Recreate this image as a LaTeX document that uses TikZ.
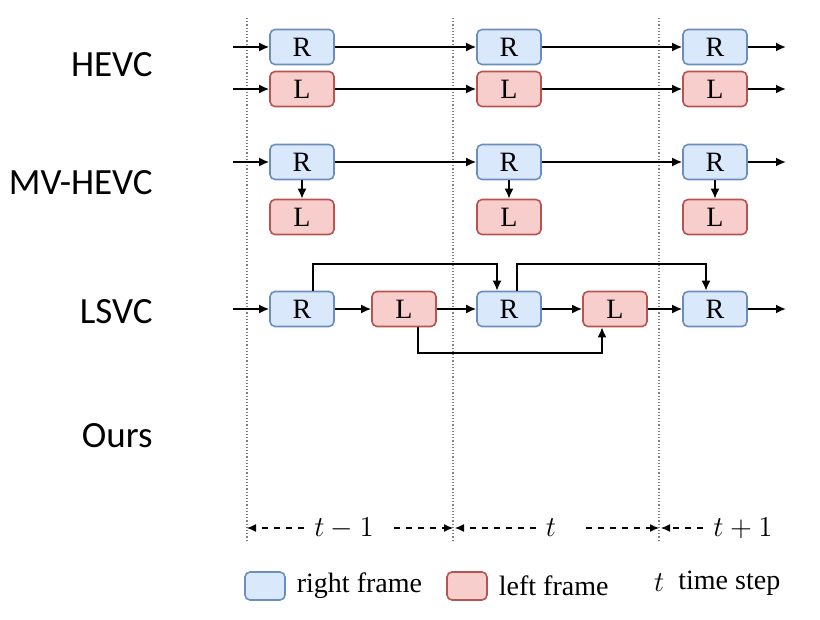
\documentclass[tikz,border=0pt]{standalone}
\usepackage{fontspec}
\setmainfont{Liberation Serif}
\newfontfamily\methodfont{Carlito}
\usetikzlibrary{arrows.meta, positioning}

\definecolor{rframefill}{HTML}{DAE8FC}
\definecolor{rframeline}{HTML}{6C8EBF}
\definecolor{lframefill}{HTML}{F8CECC}
\definecolor{lframeline}{HTML}{B85450}

\tikzset{
  framebox/.style={draw, rounded corners=2.5pt, line width=0.8pt, minimum width=32pt, minimum height=17.5pt, inner sep=0pt, font=\fontsize{14}{14}\selectfont},
  rframe/.style={framebox, draw=rframeline, fill=rframefill},
  lframe/.style={framebox, draw=lframeline, fill=lframefill},
  flow/.style={-{Latex[length=5pt,width=4.5pt]}, line width=0.9pt},
  span/.style={-{Latex[length=4.5pt,width=4pt]}, dashed, line width=0.6pt},
  method/.style={anchor=east, inner sep=0pt, font=\methodfont\fontsize{18.5}{18.5}\selectfont},
  legend/.style={anchor=west, font=\fontsize{14}{14}\selectfont},
  steplabel/.style={font=\fontsize{15}{15}\selectfont, inner sep=5pt},
}

\begin{document}
\begin{tikzpicture}[x=0.5pt, y=-0.5pt]
    \useasboundingbox (0,0) rectangle (820,620);

    % time step borders
    \foreach \xpos in {247, 453, 659} {
        \draw[densely dotted, gray, line width=0.6pt] (\xpos,18) -- (\xpos,542);
    }

    % method names
    \node[method] (hevc) at (153,65) {HEVC};
    \node[method] (mvhevc) at (153,183) {MV-HEVC};
    \node[method] (lsvc) at (153,312) {LSVC};
    \node[method] (ours) at (153,436) {Ours};

    % HEVC
    \node[rframe] (hR1) at (302,47) {R};
    \node[rframe] (hR2) at (509,47) {R};
    \node[rframe] (hR3) at (715,47) {R};
    \node[lframe] (hL1) at (302,89) {L};
    \node[lframe] (hL2) at (509,89) {L};
    \node[lframe] (hL3) at (715,89) {L};
    \coordinate (hRin) at (233,47);
    \coordinate (hRout) at (786,47);
    \coordinate (hLin) at (233,89);
    \coordinate (hLout) at (786,89);
    \draw[flow] (hRin) -- (hR1);
    \draw[flow] (hR1) -- (hR2);
    \draw[flow] (hR2) -- (hR3);
    \draw[flow] (hR3) -- (hRout);
    \draw[flow] (hLin) -- (hL1);
    \draw[flow] (hL1) -- (hL2);
    \draw[flow] (hL2) -- (hL3);
    \draw[flow] (hL3) -- (hLout);

    % MV-HEVC
    \node[rframe] (mR1) at (302,162) {R};
    \node[rframe] (mR2) at (509,162) {R};
    \node[rframe] (mR3) at (715,162) {R};
    \node[lframe] (mL1) at (302,217) {L};
    \node[lframe] (mL2) at (509,217) {L};
    \node[lframe] (mL3) at (715,217) {L};
    \coordinate (mRin) at (233,162);
    \coordinate (mRout) at (786,162);
    \draw[flow] (mRin) -- (mR1);
    \draw[flow] (mR1) -- (mR2);
    \draw[flow] (mR2) -- (mR3);
    \draw[flow] (mR3) -- (mRout);
    \foreach \i in {1,2,3} {
        \draw[flow] (mR\i) -- (mL\i);
    }

    % LSVC
    \node[rframe] (sR1) at (302,309) {R};
    \node[lframe] (sL1) at (404,309) {L};
    \node[rframe] (sR2) at (509,309) {R};
    \node[lframe] (sL2) at (615,309) {L};
    \node[rframe] (sR3) at (715,309) {R};
    \coordinate (sin) at (233,309);
    \coordinate (sout) at (786,309);
    \draw[flow] (sin) -- (sR1);
    \draw[flow] (sR1) -- (sL1);
    \draw[flow] (sL1) -- (sR2);
    \draw[flow] (sR2) -- (sL2);
    \draw[flow] (sL2) -- (sR3);
    \draw[flow] (sR3) -- (sout);
    \draw[flow] ([xshift=5.5pt]sR1.north) -- ++(0,-27) -| ([xshift=-6pt]sR2.north);
    \draw[flow] ([xshift=4pt]sR2.north) -- ++(0,-27) -| ([xshift=-4.5pt]sR3.north);
    \draw[flow] ([xshift=7pt]sL1.south) -- ++(0,26) -| ([xshift=-6.5pt]sL2.south);

    % time axis
    \coordinate (b0) at (247,528);
    \coordinate (b1) at (453,528);
    \coordinate (b2) at (659,528);
    \node[steplabel] (tm1) at (344,528) {$t-1$};
    \node[steplabel] (tc) at (551,528) {$t$};
    \node[steplabel] (tp1) at (743,528) {$t+1$};
    \draw[span] (tm1.west) -- (b0);
    \draw[span] ([xshift=5pt]tm1.east) -- (b1);
    \draw[span] (tc.west) -- ([xshift=1pt]b1);
    \draw[span] ([xshift=10pt]tc.east) -- (b2);
    \draw[span] (tp1.west) -- ([xshift=1pt]b2);

    % legend
    \node[rframe, minimum width=20pt, minimum height=14pt] (rkey) at (265,586) {};
    \node[legend, right=2pt of rkey] (rtext) {right frame};
    \node[lframe, minimum width=20pt, minimum height=14pt] (lkey) at (467,586) {};
    \node[legend, right=2pt of lkey] (ltext) {left frame};
    \node[legend] (tkey) at (647,583) {$t$};
    \node[legend, right=0pt of tkey] (ttext) {time step};
\end{tikzpicture}
\end{document}
